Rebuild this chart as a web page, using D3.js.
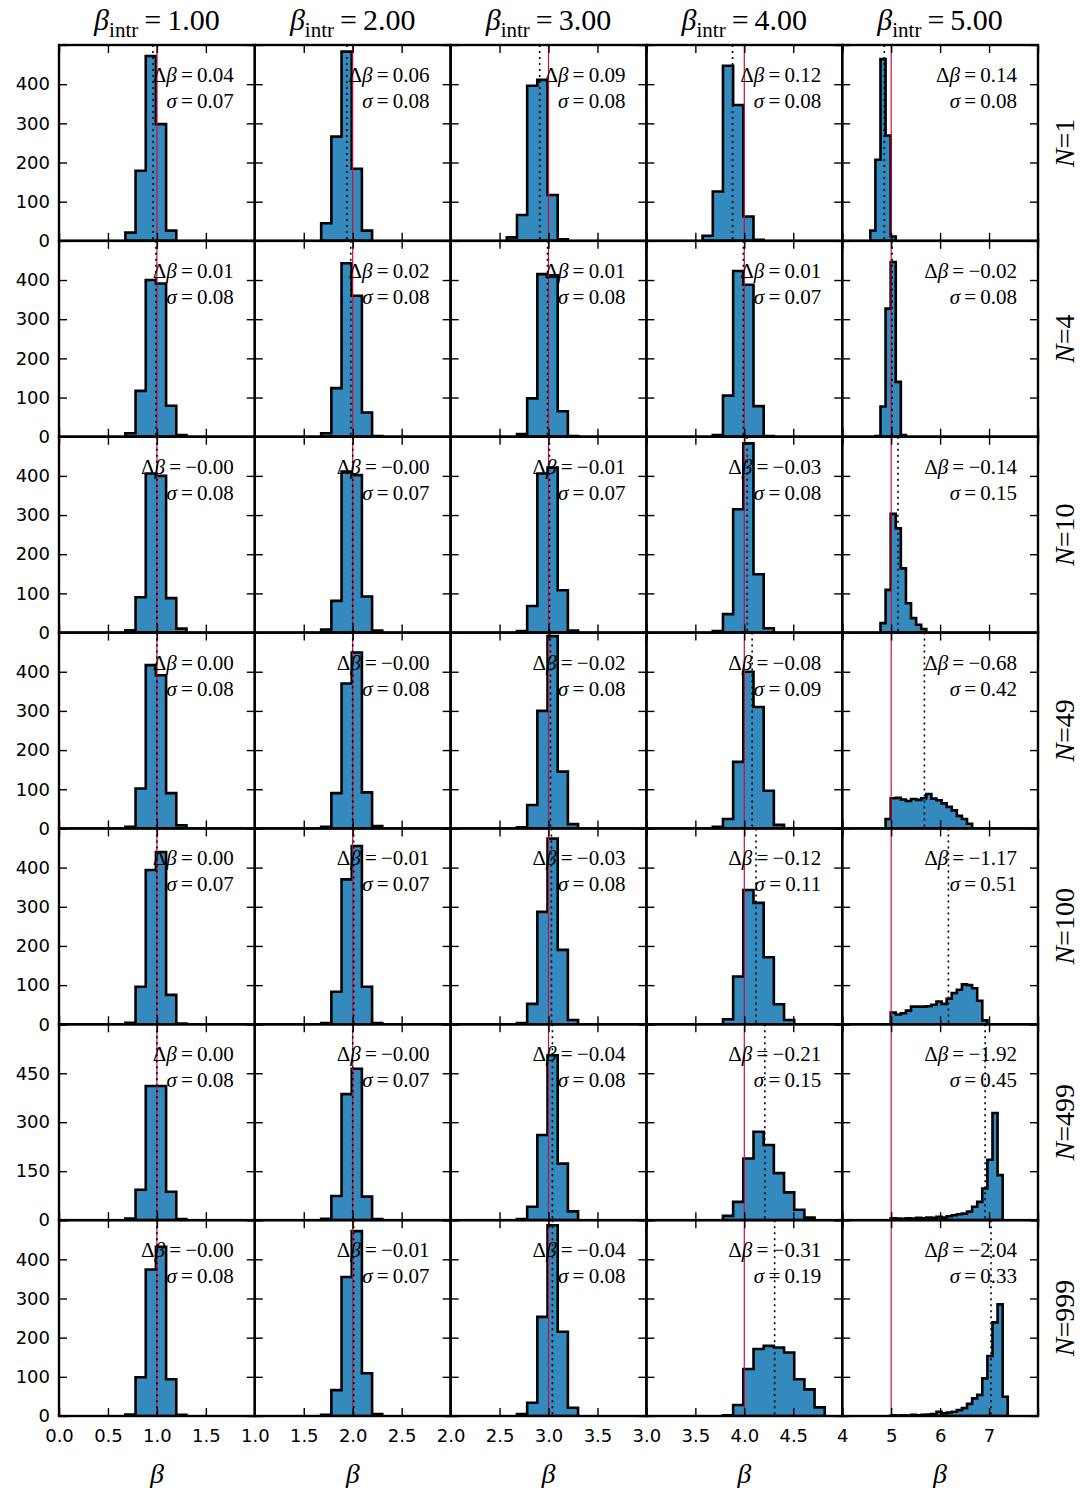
<!DOCTYPE html>
<html>
<head>
<meta charset="utf-8">
<script src="https://cdn.jsdelivr.net/npm/d3@7"></script>
<style>
  body { margin: 0; background: #fff; }
  svg { display: block; }
</style>
</head>
<body>
<svg id="chart" width="1080" height="1488"></svg>
<script>
// Intrinsic slopes (columns) and sample sizes (rows)
const betaIntr = [1, 2, 3, 4, 5];
const sampleSizes = [1, 4, 10, 49, 100, 499, 999];

// x range of each column and y range of each row
const xDomains = [[0, 2], [1, 3], [2, 4], [3, 5], [4, 8]];
const xTickStep = [0.5, 0.5, 0.5, 0.5, 1];
const yMax = [500, 500, 500, 500, 500, 600, 500];
const yTicks = [
  [0, 100, 200, 300, 400, 500],
  [0, 100, 200, 300, 400, 500],
  [0, 100, 200, 300, 400, 500],
  [0, 100, 200, 300, 400, 500],
  [0, 100, 200, 300, 400, 500],
  [0, 150, 300, 450, 600],
  [0, 100, 200, 300, 400, 500]
];

// Bias (intrinsic minus mean of fitted slopes) and scatter of each panel
const deltaBeta = [
  [0.04, 0.06, 0.09, 0.12, 0.14],
  [0.01, 0.02, 0.01, 0.01, -0.02],
  [-0.00, -0.00, -0.01, -0.03, -0.14],
  [0.00, -0.00, -0.02, -0.08, -0.68],
  [0.00, -0.01, -0.03, -0.12, -1.17],
  [0.00, -0.00, -0.04, -0.21, -1.92],
  [-0.00, -0.01, -0.04, -0.31, -2.04]
];
const sigmaBeta = [
  [0.07, 0.08, 0.08, 0.08, 0.08],
  [0.08, 0.08, 0.08, 0.07, 0.08],
  [0.08, 0.07, 0.07, 0.08, 0.15],
  [0.08, 0.08, 0.08, 0.09, 0.42],
  [0.07, 0.07, 0.08, 0.11, 0.51],
  [0.08, 0.07, 0.08, 0.15, 0.45],
  [0.08, 0.07, 0.08, 0.19, 0.33]
];

// Histogram bins: edge k of a panel sits at beta_intr + BIN_ORIGIN + k * BIN_WIDTH.
// "first" is the index of the first bin, "counts" the number of fits per bin.
const BIN_WIDTH = 0.104;
const BIN_ORIGIN = -0.01;

const histN1 = [
  { first: -3, counts: [21, 179, 472, 298, 26] },
  { first: -3, counts: [45, 266, 483, 184, 26] },
  { first: -4, counts: [9, 66, 396, 411, 117, 4] },
  { first: -4, counts: [13, 126, 447, 347, 62, 3] },
  { first: -4, counts: [26, 207, 464, 269, 11] }
];
const histN4 = [
  { first: -3, counts: [9, 117, 400, 391, 79, 4] },
  { first: -3, counts: [9, 124, 443, 360, 62, 2] },
  { first: -3, counts: [7, 98, 415, 412, 65, 2] },
  { first: -3, counts: [4, 105, 423, 388, 78, 2] },
  { first: -3, counts: [2, 77, 327, 446, 140, 4] }
];
const histN10 = [
  { first: -3, counts: [6, 90, 406, 400, 88, 10] },
  { first: -3, counts: [8, 81, 411, 402, 92, 5] },
  { first: -3, counts: [4, 68, 406, 421, 108, 5] },
  { first: -3, counts: [4, 47, 315, 483, 149, 11] },
  { first: -2, counts: [24, 109, 303, 266, 164, 75, 37, 20, 9] }
];
const histN49 = [
  { first: -3, counts: [4, 102, 417, 391, 90, 8] },
  { first: -3, counts: [4, 90, 370, 449, 92, 6] },
  { first: -3, counts: [3, 60, 300, 491, 145, 11] },
  { first: -3, counts: [4, 24, 170, 400, 310, 96, 9] },
  { first: -1, counts: [24, 77, 78, 74, 70, 75, 73, 77, 88, 76, 72, 64, 55, 46, 32, 24, 12] }
];
const histN100 = [
  { first: -3, counts: [4, 96, 394, 440, 75, 2] },
  { first: -3, counts: [3, 83, 370, 455, 96, 3] },
  { first: -3, counts: [3, 52, 287, 474, 190, 11] },
  { first: -2, counts: [13, 122, 343, 310, 171, 51, 11] },
  { first: 0, counts: [30, 25, 28, 35, 45, 45, 45, 46, 50, 58, 52, 65, 80, 88, 102, 100, 92, 60, 10] }
];
const histN499 = [
  { first: -3, counts: [5, 93, 411, 411, 87, 3] },
  { first: -3, counts: [4, 74, 386, 464, 72, 3] },
  { first: -3, counts: [3, 41, 261, 505, 173, 27] },
  { first: -2, counts: [13, 56, 189, 271, 230, 144, 85, 32, 8] },
  { first: 0, counts: [6, 5, 4, 6, 5, 7, 6, 8, 7, 10, 8, 12, 15, 18, 20, 26, 41, 56, 97, 185, 328, 138] }
];
const histN999 = [
  { first: -3, counts: [4, 99, 374, 432, 94, 3] },
  { first: -3, counts: [3, 66, 355, 472, 109, 5] },
  { first: -3, counts: [5, 34, 253, 487, 215, 21] },
  { first: -2, counts: [2, 28, 120, 171, 179, 175, 162, 94, 68, 22] },
  { first: 0, counts: [2, 1, 2, 1, 3, 2, 3, 4, 5, 11, 7, 9, 11, 15, 20, 31, 45, 54, 96, 153, 239, 285, 49] }
];
const histograms = [histN1, histN4, histN10, histN49, histN100, histN499, histN999];

// ---- layout ----
const plotLeft = 59, plotRight = 1038, plotTop = 45, plotBottom = 1416;
const nCols = betaIntr.length, nRows = sampleSizes.length;
const panelW = (plotRight - plotLeft) / nCols;
const panelH = (plotBottom - plotTop) / nRows;

const BAR_FILL = "#348ABD";
const TRUE_LINE = "#c8103e";
const SERIF = "'Liberation Serif', 'DejaVu Serif', serif";
const SANS = "'DejaVu Sans', sans-serif";

const svg = d3.select("#chart");
const defs = svg.append("defs");

function signed(v) {
  const neg = v < 0 || Object.is(v, -0);
  return (neg ? "\u2212" : "") + Math.abs(v).toFixed(2);
}

for (let r = 0; r < nRows; r++) {
  for (let c = 0; c < nCols; c++) {
    const x0 = plotLeft + c * panelW;
    const y0 = plotTop + r * panelH;
    const beta = betaIntr[c];

    const x = d3.scaleLinear().domain(xDomains[c]).range([x0, x0 + panelW]);
    const y = d3.scaleLinear().domain([0, yMax[r]]).range([y0 + panelH, y0]);

    const clipId = `clip-${r}-${c}`;
    defs.append("clipPath").attr("id", clipId)
      .append("rect").attr("x", x0).attr("y", y0).attr("width", panelW).attr("height", panelH);

    const g = svg.append("g");
    const inner = g.append("g").attr("clip-path", `url(#${clipId})`);

    // step-filled histogram outline
    const h = histograms[r][c];
    const edge = k => beta + BIN_ORIGIN + k * BIN_WIDTH;
    const pts = [[edge(h.first), 0]];
    h.counts.forEach((n, i) => {
      pts.push([edge(h.first + i), n]);
      pts.push([edge(h.first + i + 1), n]);
    });
    pts.push([edge(h.first + h.counts.length), 0]);
    const line = d3.line().x(d => x(d[0])).y(d => y(d[1]));
    inner.append("path")
      .attr("d", line(pts) + "Z")
      .attr("fill", BAR_FILL)
      .attr("stroke", "#000")
      .attr("stroke-width", 2.6)
      .attr("stroke-linejoin", "miter");

    // intrinsic slope
    inner.append("line")
      .attr("x1", x(beta)).attr("x2", x(beta))
      .attr("y1", y0).attr("y2", y0 + panelH)
      .attr("stroke", TRUE_LINE).attr("stroke-width", 1.2);

    // mean of the fitted slopes
    const mean = beta - deltaBeta[r][c];
    inner.append("line")
      .attr("x1", x(mean)).attr("x2", x(mean))
      .attr("y1", y0).attr("y2", y0 + panelH)
      .attr("stroke", "#000").attr("stroke-width", 1.6)
      .attr("stroke-dasharray", "2,4");

    // annotation
    const tx = x0 + panelW - 21;
    const t1 = g.append("text")
      .attr("x", tx).attr("y", y0 + 37)
      .attr("text-anchor", "end")
      .attr("font-family", SERIF).attr("font-size", 21);
    t1.append("tspan").text("\u0394");
    t1.append("tspan").attr("font-style", "italic").text("\u03b2");
    t1.append("tspan").text("\u2009=\u2009" + signed(deltaBeta[r][c]));

    const t2 = g.append("text")
      .attr("x", tx).attr("y", y0 + 63)
      .attr("text-anchor", "end")
      .attr("font-family", SERIF).attr("font-size", 21);
    t2.append("tspan").attr("font-style", "italic").text("\u03c3");
    t2.append("tspan").text("\u2009=\u2009" + sigmaBeta[r][c].toFixed(2));

    // ticks on all four sides, pointing inward
    const xt = d3.range(xDomains[c][0], xDomains[c][1] + 1e-9, xTickStep[c]);
    const xFmt = c === nCols - 1 ? d3.format("d") : d3.format(".1f");
    const showX = r === nRows - 1;
    const showY = c === 0;

    const axB = g.append("g").attr("transform", `translate(0,${y0 + panelH})`)
      .call(d3.axisBottom(x).tickValues(xt).tickSize(-8).tickPadding(13)
        .tickFormat(v => (showX && v < xDomains[c][1] - 1e-9) ? xFmt(v) : ""));
    const axT = g.append("g").attr("transform", `translate(0,${y0})`)
      .call(d3.axisTop(x).tickValues(xt).tickSize(-8).tickFormat(""));
    const axL = g.append("g").attr("transform", `translate(${x0},0)`)
      .call(d3.axisLeft(y).tickValues(yTicks[r]).tickSize(-8).tickPadding(9)
        .tickFormat(v => (showY && v < yMax[r]) ? String(v) : ""));
    const axR = g.append("g").attr("transform", `translate(${x0 + panelW},0)`)
      .call(d3.axisRight(y).tickValues(yTicks[r]).tickSize(-8).tickFormat(""));

    [axB, axT, axL, axR].forEach(a => {
      a.select(".domain").remove();
      a.selectAll(".tick line").attr("stroke", "#000").attr("stroke-width", 1.4);
      a.selectAll("text").attr("font-family", SANS).attr("font-size", 18).attr("fill", "#000");
    });

    // frame
    g.append("rect")
      .attr("x", x0).attr("y", y0).attr("width", panelW).attr("height", panelH)
      .attr("fill", "none").attr("stroke", "#000").attr("stroke-width", 2.4);
  }
}

// column titles
betaIntr.forEach((b, c) => {
  const cx = plotLeft + (c + 0.5) * panelW;
  const t = svg.append("text")
    .attr("x", cx).attr("y", 30)
    .attr("text-anchor", "middle")
    .attr("font-family", SERIF).attr("font-size", 30);
  t.append("tspan").attr("font-style", "italic").text("\u03b2");
  t.append("tspan").attr("font-size", 21).attr("dy", 7).text("intr");
  t.append("tspan").attr("dy", -7).text("\u2009=\u2009" + b.toFixed(2));

  // x axis label
  svg.append("text")
    .attr("x", cx).attr("y", 1483)
    .attr("text-anchor", "middle")
    .attr("font-family", SERIF).attr("font-size", 28)
    .attr("font-style", "italic")
    .text("\u03b2");
});

// row labels on the right
sampleSizes.forEach((n, r) => {
  const cy = plotTop + (r + 0.5) * panelH;
  const t = svg.append("text")
    .attr("transform", `translate(1074,${cy}) rotate(-90)`)
    .attr("text-anchor", "middle")
    .attr("font-family", SERIF).attr("font-size", 28);
  t.append("tspan").attr("font-style", "italic").text("N");
  t.append("tspan").text("=" + n);
});
</script>
</body>
</html>
